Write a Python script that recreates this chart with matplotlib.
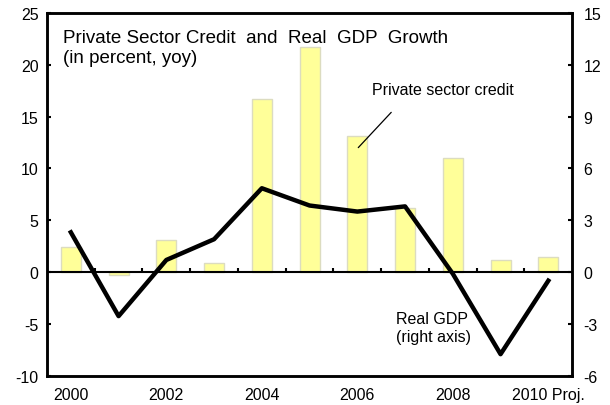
import numpy as np
import matplotlib.pyplot as plt

plt.rcParams['font.family'] = ['Liberation Sans', 'DejaVu Sans']
plt.rcParams['axes.unicode_minus'] = False

# Annual data, 2000-2010 (2010 projected)
years = ['2000', '2001', '2002', '2003', '2004', '2005', '2006', '2007', '2008', '2009', '2010']
tick_labels = ['2000', '', '2002', '', '2004', '', '2006', '', '2008', '', '2010 Proj.']
credit = [2.4, -0.3, 3.1, 0.9, 16.7, 21.7, 13.1, 6.2, 11.0, 1.2, 1.5]      # left axis
gdp = [2.3, -2.55, 0.7, 1.9, 4.85, 3.85, 3.5, 3.8, -0.1, -4.75, -0.5]     # right axis

x = np.arange(len(years))

fig = plt.figure(figsize=(6.1, 4.06), dpi=100)
ax = fig.add_axes([0.077, 0.072, 0.861, 0.894])

ax.bar(x, credit, width=0.42, color='#FFFF99', edgecolor='#DCDCC0', linewidth=1.0, zorder=2)
ax.set_xlim(-0.5, len(years) - 0.5)
ax.set_ylim(-10, 25)
ax.set_yticks(np.arange(-10, 26, 5))
ax.axhline(0, color='black', lw=1.5, zorder=3)
# small tick marks on the zero line between years
ax.vlines(x[:-1] + 0.5, 0, 0.4, color='black', lw=1.5, zorder=3)

ax.set_xticks(x)
ax.set_xticklabels(tick_labels)
ax.tick_params(axis='x', length=0, pad=8, labelsize=11.5)
ax.tick_params(axis='y', direction='in', length=3, width=1.5, labelsize=11.5, pad=6)
for s in ax.spines.values():
    s.set_linewidth(1.8)

ax2 = ax.twinx()
ax2.plot(x, gdp, color='black', lw=3.2, zorder=4)
ax2.set_ylim(-6, 15)
ax2.set_yticks(np.arange(-6, 16, 3))
ax2.tick_params(axis='y', direction='in', length=3, width=1.5, labelsize=11.5, pad=8)
for s in ax2.spines.values():
    s.set_linewidth(1.8)

ax.text(0.03, 0.955, 'Private Sector Credit  and  Real  GDP  Growth\n(in percent, yoy)',
        transform=ax.transAxes, fontsize=13.5, va='top', ha='left', linespacing=1.2)

ax.text(6.3, 16.9, 'Private sector credit', fontsize=11.5, ha='left', va='bottom')
ax.annotate('', xy=(6.02, 12.0), xytext=(6.71, 15.4),
            arrowprops=dict(arrowstyle='-', color='black', lw=0.9, shrinkA=0, shrinkB=0))

ax2.text(6.82, -3.2, 'Real GDP\n(right axis)', fontsize=11.5, ha='left', va='center',
         linespacing=1.2)

fig.savefig('out.png', dpi=100)
